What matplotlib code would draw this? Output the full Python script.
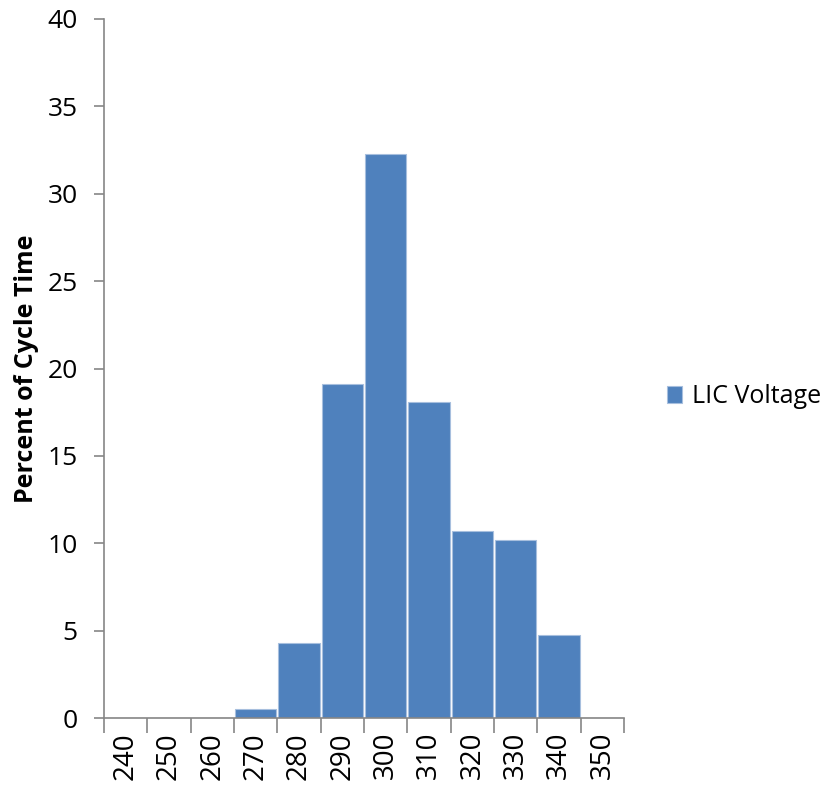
import matplotlib.pyplot as plt
import numpy as np

voltage = ['240', '250', '260', '270', '280', '290', '300', '310', '320', '330', '340', '350']
percent = [0, 0, 0, 0.5, 4.3, 19.1, 32.3, 18.1, 10.7, 10.2, 4.75, 0]

plt.rcParams['font.family'] = ['Open Sans', 'DejaVu Sans']

fig = plt.figure(figsize=(8.32, 7.9), dpi=100)
ax = fig.add_axes([0.125, 0.091, 0.625, 0.885])

x = np.arange(len(voltage))
ax.bar(x, percent, width=0.96, color='#4F81BD', edgecolor='#A7BFDE', linewidth=0.8,
       label='LIC Voltage', zorder=2)

ax.set_xlim(-0.5, len(voltage) - 0.5)
ax.set_ylim(0, 40)
ax.set_yticks(np.arange(0, 41, 5))

# tick marks between categories, labels centred on bars
ax.set_xticks(np.arange(len(voltage) + 1) - 0.5)
ax.set_xticklabels([])
ax.set_xticks(x, minor=True)
ax.set_xticklabels(voltage, minor=True, rotation=90, fontsize=20)
ax.tick_params(axis='x', which='major', length=11, color='#868686', width=1.2)
ax.tick_params(axis='x', which='minor', length=0, pad=10)
ax.tick_params(axis='y', length=7, color='#868686', width=1.2, labelsize=19, pad=12)

for s in ['top', 'right']:
    ax.spines[s].set_visible(False)
for s in ['left', 'bottom']:
    ax.spines[s].set_color('#868686')
    ax.spines[s].set_linewidth(1.2)

ax.set_ylabel('Percent of Cycle Time', fontsize=18, fontweight='bold', labelpad=6)

ax.legend(loc='center left', bbox_to_anchor=(1.0, 0.46), frameon=False, fontsize=18,
          handlelength=0.6, handleheight=0.7, handletextpad=0.4, borderaxespad=1.3)

fig.savefig('out.png', dpi=100)
